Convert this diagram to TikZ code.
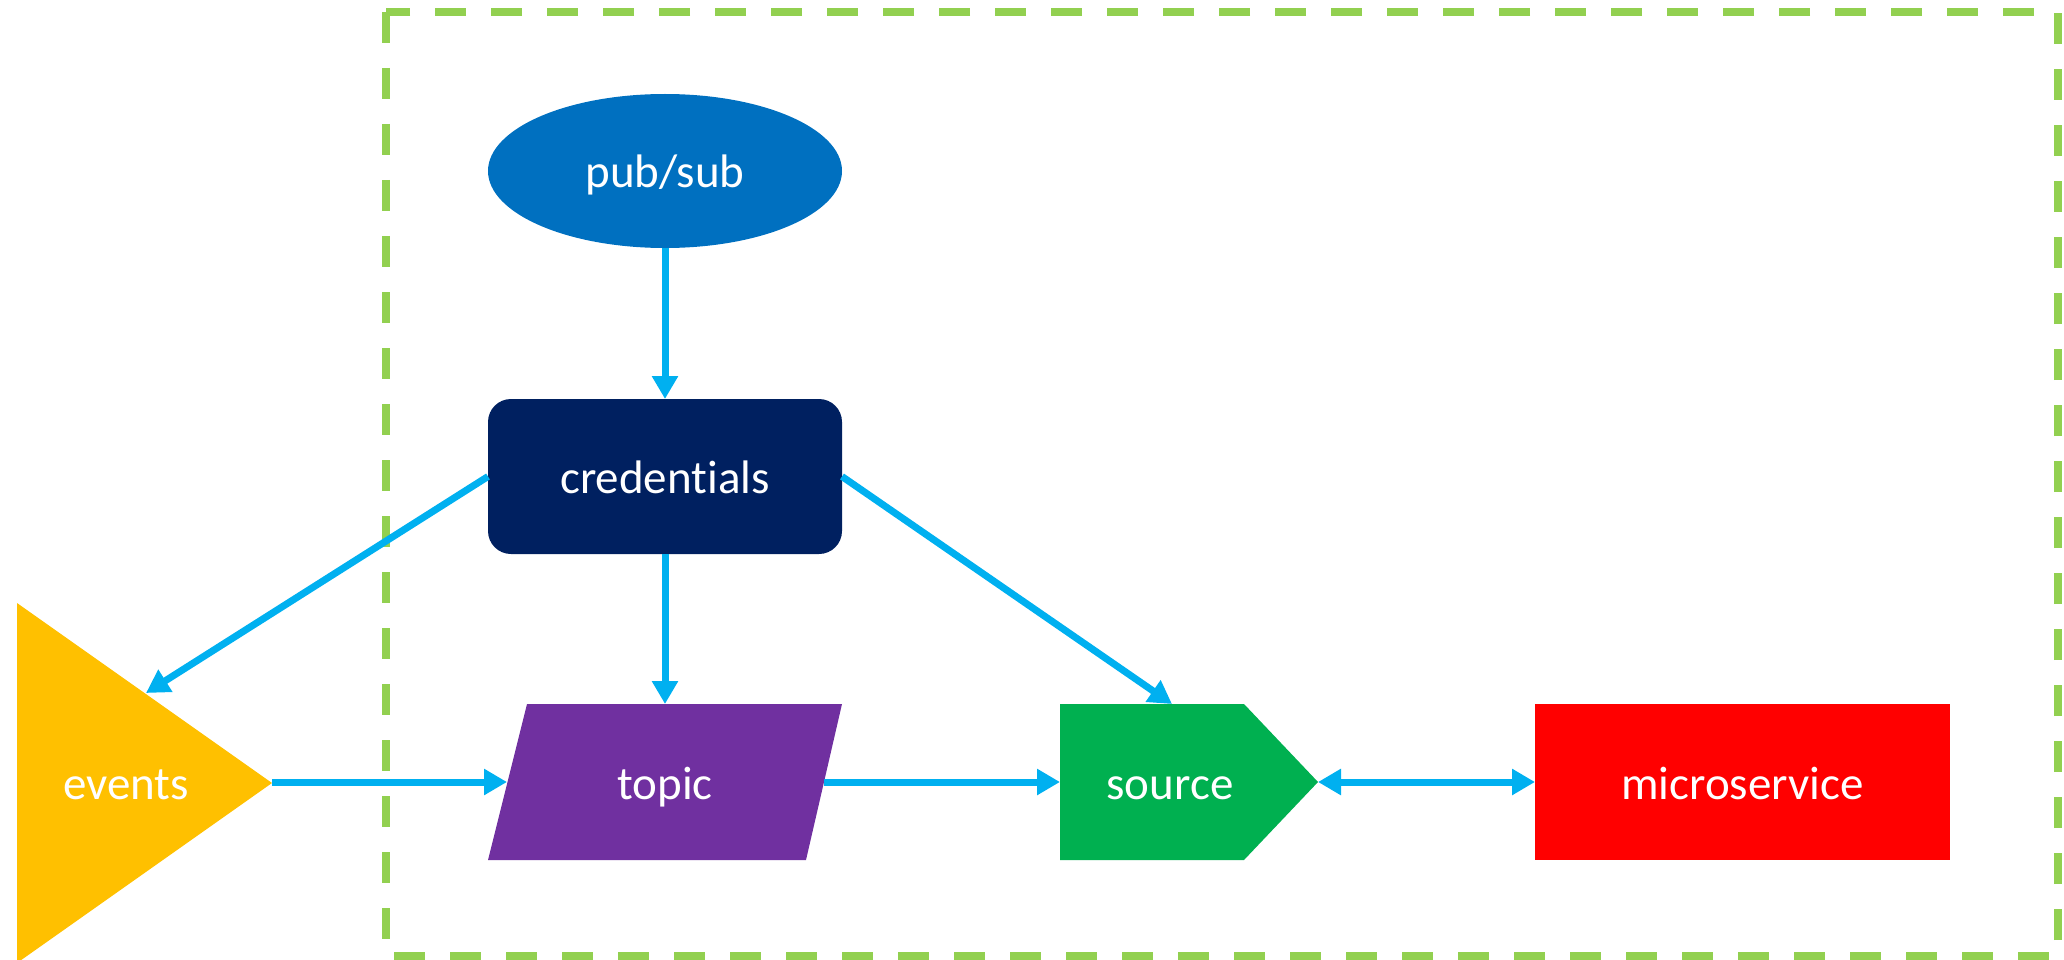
\documentclass[tikz,border=0pt]{standalone}
\usepackage{fontspec}
\setmainfont{Carlito}[Ligatures=NoCommon]
\usetikzlibrary{shapes.geometric,arrows.meta}
\definecolor{cPub}{HTML}{0070C0}
\definecolor{cCred}{HTML}{002060}
\definecolor{cEvt}{HTML}{FFC000}
\definecolor{cTopic}{HTML}{7030A0}
\definecolor{cSrc}{HTML}{00B050}
\definecolor{cMicro}{HTML}{FF0000}
\definecolor{cArrow}{HTML}{00B0F0}
\definecolor{cFrame}{HTML}{92D050}
\tikzset{
  lbl/.style={text=white, font=\fontsize{47}{56}\selectfont, inner sep=0pt, outer sep=0pt, text height=44pt, text depth=10pt},
  shapebox/.style={lbl, draw=none, inner sep=0pt, outer sep=0pt},
  conn/.style={draw=cArrow, line width=7pt, -{Triangle[length=23pt,width=25pt]}},
  biconn/.style={draw=cArrow, line width=7pt, {Triangle[length=23pt,width=25pt]}-{Triangle[length=23pt,width=25pt]}},
  frame/.style={draw=cFrame, line width=8pt, dash pattern=on 31pt off 25pt}
}
\begin{document}
\begin{tikzpicture}[x=1pt,y=-1pt]
\useasboundingbox (0,0) rectangle (2064,960);
% frame
\draw[frame] (386,12) rectangle (2058,956);
% pub/sub
\node[shapebox, ellipse, fill=cPub, minimum width=354pt, minimum height=154pt] (pubsub) at (665,171) {pub/sub};
% credentials
\node[shapebox, rectangle, rounded corners=23pt, fill=cCred, minimum width=354pt, minimum height=155pt] (cred) at (665,476.5) {credentials};
% events triangle
\fill[cEvt] (17,603) -- (272,783) -- (17,963) -- cycle;
\node[lbl] (events) at (126,782) {events};
\coordinate (evApex) at (272,782);
\coordinate (evEdge) at (146,693);
% topic parallelogram
\fill[cTopic] (488,860) -- (527,704) -- (842,704) -- (806,860) -- cycle;
\node[lbl] (topic) at (665,782) {topic};
\coordinate (topicTop) at (665,704);
\coordinate (topicL) at (507,782);
\coordinate (topicR) at (824,782);
% source pentagon
\fill[cSrc] (1060,704) -- (1244,704) -- (1318,782) -- (1244,860) -- (1060,860) -- cycle;
\node[lbl] (source) at (1170,782) {source};
\coordinate (srcL) at (1060,782);
\coordinate (srcTip) at (1318,782);
\coordinate (srcTop) at (1172,704);
% microservice
\node[shapebox, rectangle, fill=cMicro, minimum width=415pt, minimum height=156pt] (micro) at (1742.5,782) {microservice};
% connectors
\draw[conn] (pubsub.south) -- (cred.north);
\draw[conn] (cred.south) -- (topicTop);
\draw[conn] (cred.west) -- (evEdge);
\draw[conn] (cred.east) -- (srcTop);
\draw[conn] (evApex) -- (topicL);
\draw[conn] (topicR) -- (srcL);
\draw[biconn] (srcTip) -- (micro.west);
\end{tikzpicture}
\end{document}
